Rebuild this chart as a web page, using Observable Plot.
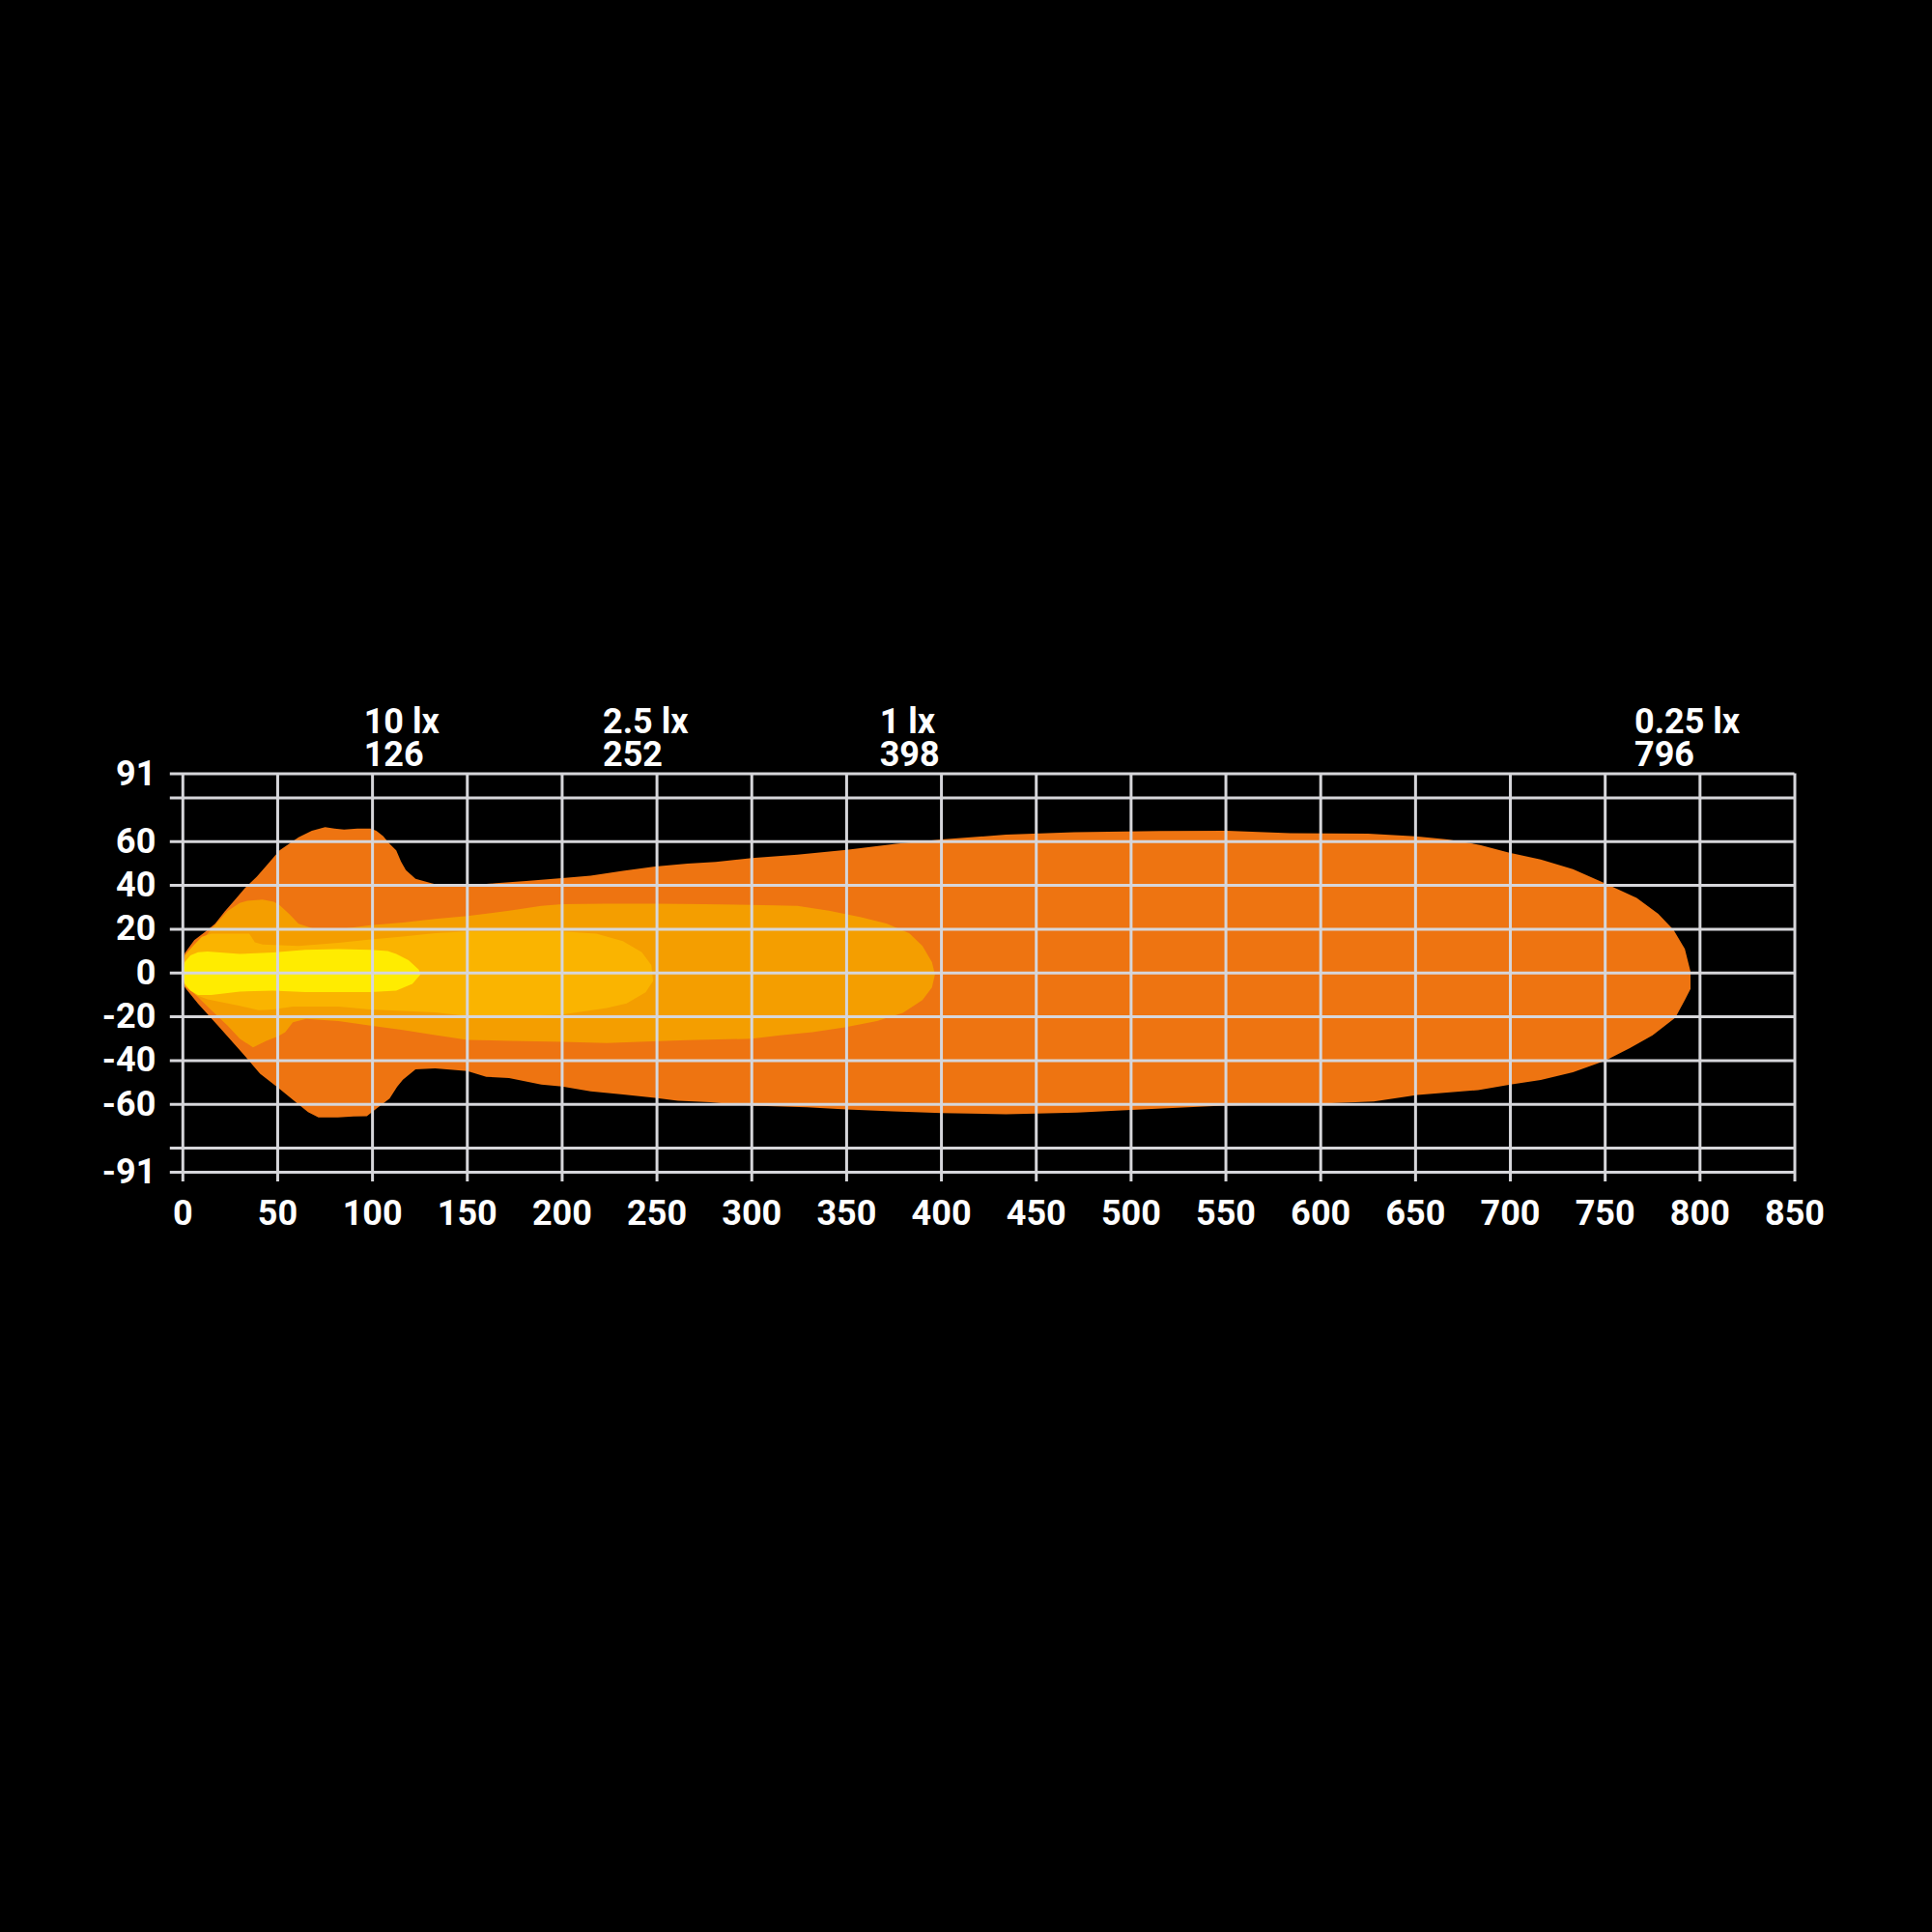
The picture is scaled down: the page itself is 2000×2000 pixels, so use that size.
<!DOCTYPE html>
<html>
<head>
<meta charset="utf-8">
<script src="https://cdn.jsdelivr.net/npm/d3@7"></script>
<script src="https://cdn.jsdelivr.net/npm/@observablehq/plot@0.6"></script>
<style>
  html, body { margin: 0; padding: 0; background: #000; }
  #chart { width: 2000px; height: 2000px; }
</style>
</head>
<body>
<div id="chart"></div>
<script>
// ---- Isolux levels (label, reach in m, colour) ----
const lxLevels = ["10 lx", "2.5 lx", "1 lx", "0.25 lx"];
const lxReach = [126, 252, 398, 796];
const lxColors = ["#FFEC00", "#FAB400", "#F49E00", "#EE7411"];

// ---- Axis ticks ----
const xTicks = d3.range(0, 851, 50);
const yGridLines = [91, 80, 60, 40, 20, 0, -20, -40, -60, -80, -91];
const yTickLabels = [91, 60, 40, 20, 0, -20, -40, -60, -91];

// ---- Contour edges [distance m, width m] ----
// 0.25 lx
const top025 = [[0,3],[1,9],[6,15],[12,19],[17,22.5],[22,28],[27,33],[33,39],[39,44],[45,50],[51,56],[56,59],[61,62],[68,65],[75,66.6],[80,66],[85,65.5],[92,66],[99,66],[102,65],[105.6,62.5],[109,59],[112.5,56],[115,51],[117.6,47],[122.7,43],[131,41],[138,39.5],[150,40],[165,41],[181,42],[200,43.4],[215,44.5],[232,46.7],[249,48.6],[266,50],[281,50.7],[300,52.5],[324,54],[350,56.2],[376,59],[400,61],[434,63.2],[470,64.3],[515,64.9],[550,65],[584,63.9],[625,63.6],[650,62.4],[667,61],[684,58.5],[699,55],[716,51.8],[733,47.4],[750,40.9],[766.6,34.3],[778,27],[786,19.7],[792,11],[795,0.7],[795,-7.3]];
const bottom025 = [[0,-3],[1,-6.5],[8,-14],[18.5,-24],[30.4,-35.6],[40.7,-46],[51,-53],[61,-60],[66,-63.5],[71.5,-66],[81.7,-66],[90,-65.5],[97,-65.4],[102,-62],[109,-57.4],[113,-52],[116,-48.7],[122.7,-44],[133,-43.6],[150,-44.8],[160,-47.4],[172,-48],[189,-51],[200,-51.8],[215,-54],[232,-55.5],[249,-57],[261,-58.4],[278,-59],[300,-60.6],[329,-61.3],[350,-62.3],[374.6,-63.2],[400,-64],[434,-64.5],[471.5,-63.7],[500,-62.5],[530,-61.3],[549,-60.6],[599,-59.7],[628,-58.7],[651,-55.7],[683,-53.5],[700,-51],[716,-48.9],[733,-45.3],[750,-40],[763,-34.3],[775,-28.5],[787,-20.4],[792,-12.4],[795,-7.3]];
// 1 lx
const top1 = [[1,7],[8,13],[15,20],[23.6,28.3],[30,32],[34,33],[42,33.5],[48,32.5],[51,31],[56,27],[61,22.5],[70,20],[82,20],[99,21.8],[116,23],[133,24.7],[150,26],[172,28.5],[189,30.7],[200,31.4],[223.5,31.7],[249,31.7],[275,31.4],[300,31.1],[324,30.7],[340.7,28.5],[357.6,25.5],[371,22.6],[383,18.2],[390,12.4],[395,5],[396.6,-0.7]];
const bottom1 = [[1,-5],[8,-11],[15,-17],[23.6,-24],[30,-30],[37,-34],[44,-31],[50,-29],[54,-27],[58,-22.5],[65,-21],[82,-22],[99,-24],[116,-26],[133,-28.3],[150,-30.5],[172,-31],[200,-31.4],[223.5,-32],[240.6,-31.4],[266,-30.7],[300,-30],[315,-28.5],[332,-27],[349,-24.8],[366,-21.9],[379.7,-18.2],[390,-12.4],[395,-6.6],[396.6,-0.7]];
// 2.5 lx
const top25 = [[1,8],[5,12],[10,16.5],[15,18],[35,18],[38,14],[42,13],[61,12.4],[82,13.8],[99,15.3],[116,16.7],[133,18.2],[150,19],[200,19],[218,18],[232,14.6],[242,9.5],[247,3.6],[248,-3.6]];
const bottom25 = [[1,-6],[7,-10],[13,-12],[30,-15],[40,-17],[47.5,-16.7],[58,-15.3],[82,-15.3],[99,-16.7],[133,-18],[150,-19.6],[172,-19.7],[200,-19],[206,-18.2],[223.5,-16],[234,-13.9],[244,-8.8],[248,-3.6]];
// 10 lx
const top10 = [[0,1],[1,5],[4,8],[8,9.5],[13,9.8],[30,8.7],[47.5,9.4],[64.6,10.6],[82,10.9],[99,10.6],[108,10],[112.5,8.7],[119,5.8],[124.4,1.5],[125.3,-0.7]];
const bottom10 = [[0,-1],[1,-5],[4,-8],[8,-10],[15,-10],[30,-8.5],[47.5,-8],[64.6,-8.7],[99,-8.7],[112.5,-8],[121,-5],[125.3,-0.7]];

// closed outlines, drawn from the widest (lowest lux) to the narrowest
const outlines = [
  {color: lxColors[3], pts: top025.concat(bottom025.slice().reverse())},
  {color: lxColors[2], pts: top1.concat(bottom1.slice().reverse())},
  {color: lxColors[1], pts: top25.concat(bottom25.slice().reverse())},
  {color: lxColors[0], pts: top10.concat(bottom10.slice().reverse())}
];

const gridColor = "#d6d6da";
const font = "Roboto, 'Liberation Sans', sans-serif";

const labelData = lxLevels.map((l, i) => ({text: l + "\n" + lxReach[i], x: lxReach[i]}));

const chart = Plot.plot({
  width: 2000,
  height: 2000,
  marginLeft: 188.8,
  marginRight: 142.5,
  marginTop: 800.5,
  marginBottom: 787,
  x: {domain: [0, 850]},
  y: {domain: [-91, 91]},
  style: {background: "#000", color: "#fff", fontFamily: font, fontSize: "36px", fontWeight: "bold"},
  marks: [
    ...outlines.map(o => Plot.line(o.pts, {x: d => d[0], y: d => d[1], fill: o.color, stroke: "none", curve: "linear"})),
    Plot.gridX({ticks: xTicks, stroke: gridColor, strokeOpacity: 1, strokeWidth: 3, insetBottom: -10}),
    Plot.gridY({ticks: yGridLines, stroke: gridColor, strokeOpacity: 1, strokeWidth: 3, insetLeft: -13}),
    Plot.axisX({ticks: xTicks, tickSize: 0, tickPadding: 29, label: null, tickFormat: d => String(d), fontSize: 36, fontWeight: "bold", fill: "#fff"}),
    Plot.axisY({ticks: yTickLabels, tickSize: 0, tickPadding: 28, label: null, tickFormat: d => String(d), fontSize: 36, fontWeight: "bold", fill: "#fff"}),
    Plot.text(labelData, {x: "x", y: () => 91, text: "text", textAnchor: "start", lineAnchor: "bottom", lineHeight: 0.955, dx: -60, dy: -8, fill: "#fff", fontSize: 36, fontWeight: "bold"})
  ]
});
document.getElementById("chart").appendChild(chart);
</script>
</body>
</html>
